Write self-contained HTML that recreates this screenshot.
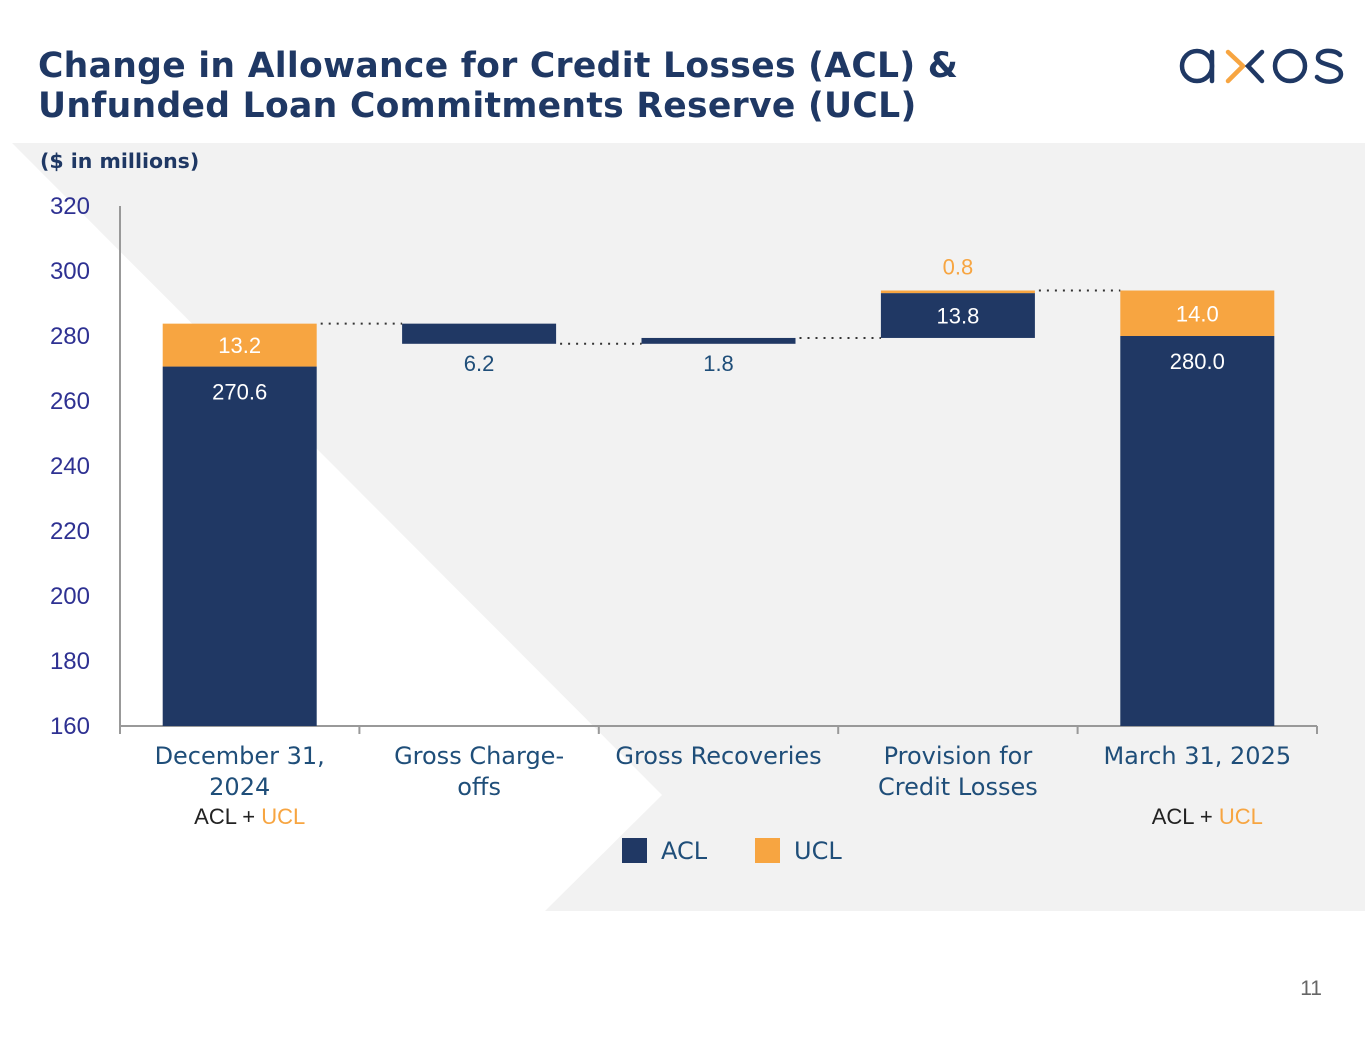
<!DOCTYPE html>
<html><head><meta charset="utf-8"><style>
body{margin:0;width:1365px;height:1055px;background:#fff;font-family:"Liberation Sans",sans-serif;overflow:hidden;position:relative}
h1{position:absolute;left:38px;top:46px;margin:0;font:bold 34.6px/40px "DejaVu Sans","Liberation Sans",sans-serif;color:#1f3864;letter-spacing:0.3px}
</style></head><body>
<svg width="1365" height="1055" style="position:absolute;left:0;top:0">
<rect x="0" y="143" width="1365" height="768" fill="#f2f2f2"/>
<polygon points="0,143 12,143 662,795 545,911 0,911" fill="#fff"/>
</svg>
<h1>Change in Allowance for Credit Losses (ACL) &amp;<br>Unfunded Loan Commitments Reserve (UCL)</h1>
<svg width="1365" height="1055" style="position:absolute;left:0;top:0" id="chart">
<g fill="none" stroke-width="4.5" stroke-linecap="round">
<circle cx="1197" cy="66" r="15" stroke="#1f3864"/><line x1="1212" y1="52" x2="1212" y2="81" stroke="#1f3864"/>
<polyline points="1228,52 1243,66 1228,81" stroke="#f7a541"/>
<polyline points="1262,52 1248,66 1262,81" stroke="#1f3864"/>
<circle cx="1290" cy="66" r="15" stroke="#1f3864"/>
<path d="M1340,55 C1335,49 1318,49 1318,58 C1318,66 1341,64 1341,74 C1341,83 1323,84 1317,77" stroke="#1f3864"/>
</g>
<text x="40" y="168" font-family="DejaVu Sans,sans-serif" font-weight="bold" font-size="20.5" fill="#1f3864">($ in millions)</text>
<text x="1322" y="995" font-size="21" fill="#666" text-anchor="end">11</text>
</svg>
<script>
const categories=["December 31,|2024","Gross Charge-|offs","Gross Recoveries","Provision for|Credit Losses","March 31, 2025"];
const aclValues=[270.6,-6.2,1.8,13.8,280.0];
const uclValues=[13.2,0,0,0.8,14.0];
const yTicks=[160,180,200,220,240,260,280,300,320];
const NS="http://www.w3.org/2000/svg";
const svg=document.getElementById('chart');
const X0=120,X1=1317,Y0=726,Y1=206,YMIN=160,YMAX=320;
const y=v=>Y0-(v-YMIN)/(YMAX-YMIN)*(Y0-Y1);
const bw=(X1-X0)/categories.length;
const cx=i=>X0+bw*(i+0.5);
const BAR=154;
function el(t,a,txt){const e=document.createElementNS(NS,t);for(const k in a)e.setAttribute(k,a[k]);if(txt!==undefined)e.textContent=txt;svg.appendChild(e);return e;}
const NAVY="#203864",ORANGE="#f7a541",TXT="#1f4e79",TICK="#2e3192";
yTicks.forEach(t=>{const e=el('text',{x:90,y:y(t)+8,'font-size':24,fill:TICK,'text-anchor':'end'},t);

});
let a=el('line',{x1:X0,y1:Y1,x2:X0,y2:Y0+8,stroke:'#999','stroke-width':2});


a=el('line',{x1:X0,y1:Y0,x2:X1,y2:Y0,stroke:'#999','stroke-width':2});


for(let i=1;i<=categories.length;i++){const t=el('line',{x1:X0+bw*i,y1:Y0,x2:X0+bw*i,y2:Y0+8,stroke:'#999','stroke-width':2});

}
let running=0;const tops=[];
categories.forEach((c,i)=>{
 const x=cx(i)-BAR/2;let lo,hi;
 if(i===0||i===categories.length-1){
  const acl=aclValues[i],ucl=uclValues[i];
  let r=el('rect',{x:x,y:y(acl),width:BAR,height:y(YMIN)-y(acl),fill:NAVY});
  
  
  r=el('rect',{x:x,y:y(acl+ucl),width:BAR,height:y(acl)-y(acl+ucl),fill:ORANGE});
  
  
  let t=el('text',{x:cx(i),y:y(acl+ucl/2)+8,'font-size':22,fill:'#fff','text-anchor':'middle'},ucl.toFixed(1));
  
  
  t=el('text',{x:cx(i),y:y(acl)+33,'font-size':22,fill:'#fff','text-anchor':'middle'},acl.toFixed(1));
  
  
  running=acl+ucl;lo=YMIN;hi=running;
 } else {
  const d=aclValues[i],u=uclValues[i];
  const start=running,endA=start+d;
  lo=Math.min(start,endA);hi=Math.max(start,endA);
  let r=el('rect',{x:x,y:y(hi),width:BAR,height:y(lo)-y(hi),fill:NAVY});
  
  
  let t;
  if(d<0||Math.abs(d)<5){t=el('text',{x:cx(i),y:y(lo)+27,'font-size':22,fill:TXT,'text-anchor':'middle'},Math.abs(d).toFixed(1));}
  else{t=el('text',{x:cx(i),y:(y(lo)+y(hi))/2+8,'font-size':22,fill:'#fff','text-anchor':'middle'},Math.abs(d).toFixed(1));}
  
  
  running=endA;
  if(u){r=el('rect',{x:x,y:y(running+u),width:BAR,height:y(running)-y(running+u),fill:ORANGE});
   
   
   t=el('text',{x:cx(i),y:y(running+u)-16,'font-size':22,fill:ORANGE,'text-anchor':'middle'},u.toFixed(1));
   
   
   running+=u;}
 }
 tops.push(running);
 const lines=c.split('|');
 lines.forEach((ln,k)=>{const t=el('text',{x:cx(i),y:764+k*31,'font-size':24,fill:TXT,'text-anchor':'middle','font-family':'DejaVu Sans,sans-serif'},ln);
 
 });
});
for(let i=0;i<categories.length-1;i++){
 const l=el('line',{x1:cx(i)+BAR/2+4,y1:y(tops[i]),x2:cx(i+1)-BAR/2,y2:y(tops[i]),stroke:'#333','stroke-width':2,'stroke-dasharray':'2 6'});
 
 
}
[0,categories.length-1].forEach(i=>{
 const t=el('text',{x:cx(i)+10,y:824,'font-size':22,fill:'#222','text-anchor':'middle'});
 t.innerHTML='ACL + <tspan fill="'+ORANGE+'">UCL</tspan>';
 
 
});
let g=el('rect',{x:622,y:838,width:25,height:25,fill:NAVY});


g=el('text',{x:661,y:859,'font-size':24,fill:TXT,'font-family':'DejaVu Sans,sans-serif'},'ACL');


g=el('rect',{x:755,y:838,width:25,height:25,fill:ORANGE});


g=el('text',{x:794,y:859,'font-size':24,fill:TXT,'font-family':'DejaVu Sans,sans-serif'},'UCL');


</script>
</body></html>
